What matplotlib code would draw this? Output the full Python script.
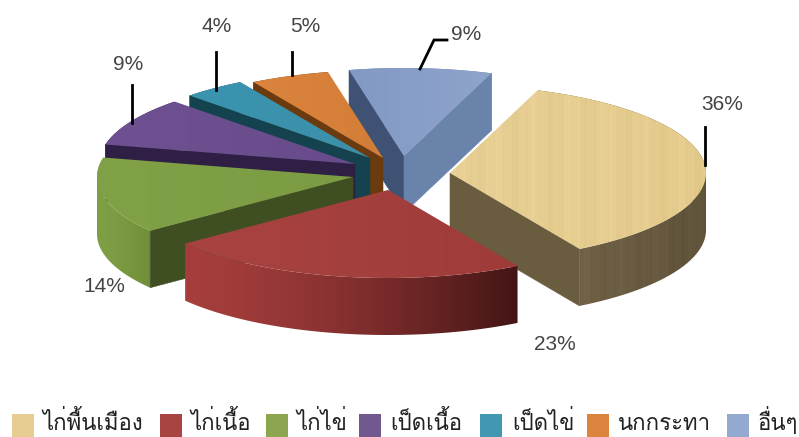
import numpy as np
import matplotlib
matplotlib.use('Agg')
import matplotlib.pyplot as plt
from matplotlib.colors import to_rgb
from matplotlib.patches import Polygon, Rectangle

categories = ['ไก่พื้นเมือง', 'ไก่เนื้อ', 'ไก่ไข่', 'เป็ดเนื้อ', 'เป็ดไข่', 'นกกระทา', 'อื่นๆ']
values = [36, 23, 14, 9, 4, 5, 9]

# colours per slice: top surface (left, right), rim (left, right), cut faces
top_colors = [('#e7cf94', '#e4cb8c'), ('#a84341', '#9f3c3a'), ('#80a146', '#7c9c43'),
              ('#6f5192', '#674b8a'), ('#3a95b0', '#3c8fa9'), ('#da843d', '#d47d37'),
              ('#8299c4', '#8ea4cc')]
rim_colors = [('#726348', '#5e5238'), ('#a53e3c', '#431515'), ('#7f9f45', '#6f8e38'),
              ('#3a2a55', '#3a2a55'), ('#14434f', '#14434f'), ('#6b3a10', '#6b3a10'),
              ('#6780a8', '#6780a8')]
start_faces = [None, None, '#3f4f22', '#2f1f45', '#14424f', '#6b3a0e', '#3f5273']
end_faces = ['#6a5c3f', None, None, None, None, None, '#6a83ab']
legend_colors = ['#e6cd8f', '#a84442', '#8ba64e', '#71588f', '#4198b0', '#db843e', '#93a9cf']
legend_swatch_x = [12, 160, 266, 359, 480, 587, 727]
legend_text_x = [43, 191, 297, 390, 512, 618, 758]

# explode offsets of each slice from the pie centre, in pixels
offset_x = [49, -13, -48, -46, -31, -18, 3]
offset_y = [2, 19, 6, -7, -13, -13, -15]

CX, CY = 401, 171
RX, RY = 256, 88
DEPTH = 57
START_ANGLE = 70
THAI_FONTS = ['Loma', 'Sarabun', 'Noto Sans Thai', 'DejaVu Sans']
LABEL_FONT = 'Liberation Sans'

fig = plt.figure(figsize=(7.99, 4.37), dpi=100)
ax = fig.add_axes([0, 0, 1, 1])
ax.set_xlim(0, 799)
ax.set_ylim(437, 0)
ax.axis('off')


def fill_gradient(points, c0, c1, z, wood=False, x_range=None, gamma=1.0):
    # horizontal gradient clipped to the polygon, optional vertical grain
    x0, x1 = x_range if x_range else (points[:, 0].min(), points[:, 0].max())
    y0, y1 = points[:, 1].min(), points[:, 1].max()
    xs = np.linspace(0, 1, 400)
    ramp = np.outer(np.ones(2), xs ** gamma)
    rgb = np.dstack([(1 - ramp) * a + ramp * b for a, b in zip(to_rgb(c0), to_rgb(c1))])
    if wood:
        px = xs * (x1 - x0)
        grain = 0.006 * np.sin(px * 0.55) + 0.005 * np.sin(px * 1.37 + 1) + 0.008 * np.sin(px * 0.17)
        rgb = np.clip(rgb + grain[None, :, None], 0, 1)
    im = ax.imshow(rgb, extent=(x0, x1, y1, y0), aspect='auto', zorder=z, interpolation='bilinear')
    clip = Polygon(points, closed=True, transform=ax.transData, fc='none', ec='none')
    ax.add_patch(clip)
    im.set_clip_path(clip)
    ax.set_xlim(0, 799)
    ax.set_ylim(437, 0)


def draw_slice(i, a0, a1, z):
    ax0 = CX + offset_x[i]
    ay0 = CY + offset_y[i]
    t = np.radians(np.linspace(a0, a1, max(int(abs(a1 - a0)), 2) + 1))
    xs = ax0 + RX * np.cos(t)
    ys = ay0 - RY * np.sin(t)
    arc = np.column_stack([xs, ys])
    # rim band, split where the arc turns back in x so the polygon never folds over itself
    turns = np.where(np.diff(np.sign(np.diff(xs))) != 0)[0] + 1
    bounds = [0, *turns, len(arc) - 1]
    for b0, b1 in zip(bounds[:-1], bounds[1:]):
        piece = arc[b0:b1 + 1]
        band = np.vstack([piece, (piece + [0, DEPTH])[::-1]])
        fill_gradient(band, rim_colors[i][0], rim_colors[i][1], z, wood=(i == 0),
                      x_range=(xs.min(), xs.max()), gamma=1.5)
    # cut faces
    if start_faces[i]:
        quad = [(ax0, ay0), (xs[0], ys[0]), (xs[0], ys[0] + DEPTH), (ax0, ay0 + DEPTH)]
        ax.add_patch(Polygon(quad, closed=True, fc=start_faces[i], ec=start_faces[i], lw=0.4, zorder=z + 0.1))
    if end_faces[i]:
        quad = [(ax0, ay0), (xs[-1], ys[-1]), (xs[-1], ys[-1] + DEPTH), (ax0, ay0 + DEPTH)]
        ax.add_patch(Polygon(quad, closed=True, fc=end_faces[i], ec=end_faces[i], lw=0.4, zorder=z + 0.1))
    # top surface
    top = np.vstack([[ax0, ay0], arc])
    fill_gradient(top, top_colors[i][0], top_colors[i][1], z + 0.2, wood=(i == 0))


# slice angles come from the values, running clockwise
angles = [START_ANGLE]
for v in values:
    angles.append(angles[-1] - 3.6 * v * 100 / sum(values))

# back slices first, the red one ends up in front
draw_order = [6, 5, 4, 3, 0, 2, 1]
for z, i in enumerate(draw_order):
    draw_slice(i, angles[i], angles[i + 1], z + 1)

# leader lines
leaders = [([705, 705], [127, 165]), ([420, 434, 447], [69, 40, 40]), ([292, 292], [52, 75]),
           ([216, 216], [52, 90]), ([132, 132], [85, 123])]
for lx, ly in leaders:
    ax.plot(lx, ly, color='black', lw=2, zorder=20, solid_joinstyle='miter')

# percent labels
label_x = [722, 555, 104, 128, 217, 305, 466]
label_y = [105, 344, 286, 64, 26, 26, 34]
for v, lx, ly in zip(values, label_x, label_y):
    ax.text(lx, ly, f'{v}%', ha='center', va='center', fontsize=15, color='#444444',
            family=LABEL_FONT, zorder=21)

# legend along the bottom edge
for i, name in enumerate(categories):
    ax.add_patch(Rectangle((legend_swatch_x[i], 414), 22, 23, fc=legend_colors[i], ec='none', zorder=21))
    ax.text(legend_text_x[i], 430, name, ha='left', va='baseline', fontsize=16, color='#222222',
            family=THAI_FONTS, zorder=21)

fig.savefig('out.png', dpi=100)
plt.close(fig)
